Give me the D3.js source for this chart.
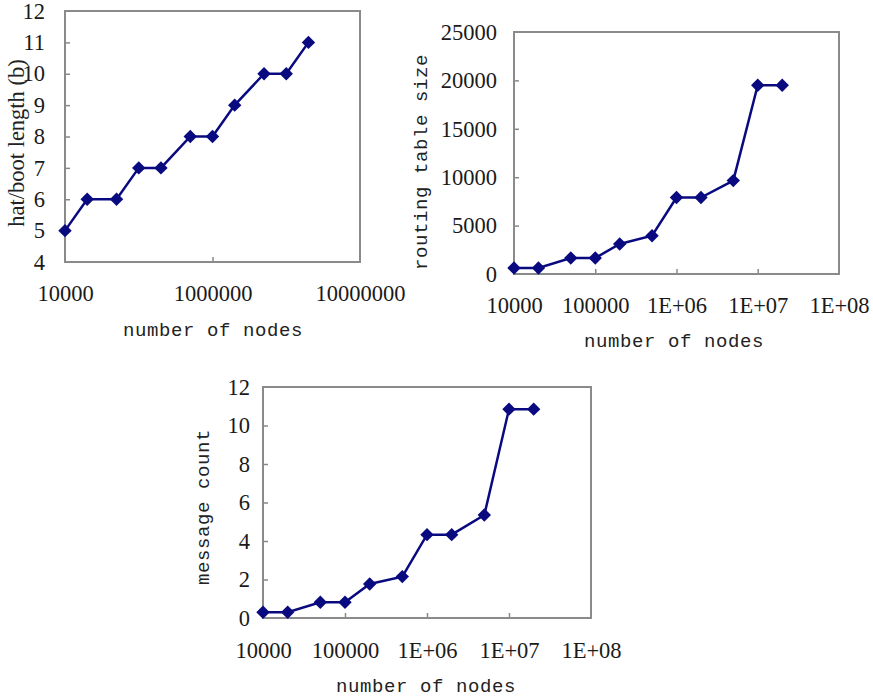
<!DOCTYPE html>
<html>
<head>
<meta charset="utf-8">
<script src="https://cdn.jsdelivr.net/npm/d3@7"></script>
<style>
  body { margin: 0; background: #fff; }
  .tick line { stroke: #888; stroke-width: 1.5; }
  .title { font-family: "Liberation Mono", monospace; font-size: 19px; fill: #222; letter-spacing: 0.6px; }
  .title.serif { font-family: "Liberation Serif", serif; font-size: 22.5px; letter-spacing: 0; }
</style>
</head>
<body>
<div id="chart"></div>
<script>
var svgWidth = 873;
var svgHeight = 698;

// number of nodes (same for all three panels)
var nodes = [1e4, 2e4, 5e4, 1e5, 2e5, 5e5, 1e6, 2e6, 5e6, 1e7, 2e7];

// series values
var hatLength = [5, 6, 6, 7, 7, 8, 8, 9, 10, 10, 11];
var routingSize = [620, 620, 1650, 1650, 3100, 3950, 7900, 7900, 9650, 19500, 19500];
var messageCount = [0.3, 0.3, 0.82, 0.82, 1.77, 2.15, 4.33, 4.33, 5.35, 10.85, 10.85];

// tick labels
var xTicks1 = [1e4, 1e6, 1e8];
var xLabels1 = ["10000", "1000000", "10000000"];
var xTicks2 = [1e4, 1e5, 1e6, 1e7, 1e8];
var xLabels2 = ["10000", "100000", "1E+06", "1E+07", "1E+08"];
var yTicks1 = [4, 5, 6, 7, 8, 9, 10, 11, 12];
var yTicks2 = [0, 5000, 10000, 15000, 20000, 25000];
var yTicks3 = [0, 2, 4, 6, 8, 10, 12];

var svg = d3.select("#chart")
  .append("svg")
  .attr("width", svgWidth)
  .attr("height", svgHeight);

function styleTicks(sel) {
  sel.selectAll(".tick text")
    .attr("font-family", "'Liberation Serif', serif")
    .attr("font-size", 22.5)
    .attr("fill", "#1a1a1a");
}

function drawPanel(p) {
  var width = p.right - p.left;
  var height = p.bottom - p.top;

  var g = svg.append("g")
    .attr("transform", `translate(${p.left}, ${p.top})`);

  var x = d3.scaleLog().domain([1e4, 1e8]).range([0, width]);
  var y = d3.scaleLinear().domain(p.yDomain).range([height, 0]);

  var xAxis = d3.axisBottom(x)
    .tickValues(p.xTicks)
    .tickFormat((d, i) => p.xLabels[i])
    .tickSize(-5)
    .tickPadding(p.xPad);
  var gx = g.append("g").attr("transform", `translate(0, ${height})`).call(xAxis);
  gx.select(".domain").remove();
  gx.selectAll(".tick line").filter((d, i) => i == 0 || i == p.xTicks.length - 1).remove();
  styleTicks(gx);

  var yAxis = d3.axisLeft(y)
    .tickValues(p.yTicks)
    .tickFormat(d3.format("d"))
    .tickSize(-5)
    .tickPadding(p.yPad);
  var gy = g.append("g").call(yAxis);
  gy.select(".domain").remove();
  gy.selectAll(".tick line").filter((d, i) => i == 0 || i == p.yTicks.length - 1).remove();
  styleTicks(gy);

  g.append("rect")
    .attr("width", width)
    .attr("height", height)
    .attr("fill", "none")
    .attr("stroke", "#8a8a8a")
    .attr("stroke-width", 2);

  var line = d3.line()
    .x((d, i) => x(nodes[i]))
    .y(d => y(d));

  g.append("path")
    .datum(p.values)
    .attr("d", line)
    .attr("fill", "none")
    .attr("stroke", "#0a0a80")
    .attr("stroke-width", 2.5);

  g.selectAll(".marker")
    .data(p.values)
    .enter()
    .append("path")
    .attr("class", "marker")
    .attr("d", d3.symbol().type(d3.symbolSquare).size(90))
    .attr("transform", (d, i) => `translate(${x(nodes[i])}, ${y(d)}) rotate(45)`)
    .attr("fill", "#0a0a80");

  svg.append("text")
    .attr("class", "title")
    .attr("x", p.xTitle[0])
    .attr("y", p.xTitle[1])
    .attr("text-anchor", "middle")
    .text("number of nodes");

  svg.append("text")
    .attr("class", p.serifY ? "title serif" : "title")
    .attr("transform", `translate(${p.yTitle[0]}, ${p.yTitle[1]}) rotate(-90)`)
    .attr("dy", "0.35em")
    .attr("text-anchor", "middle")
    .text(p.yLabel);
}

drawPanel({
  left: 65, right: 360, top: 11, bottom: 262,
  yDomain: [4, 12], yTicks: yTicks1, xTicks: xTicks1, xLabels: xLabels1,
  xPad: 23, yPad: 20, values: hatLength,
  xTitle: [213, 336], yTitle: [16, 143], yLabel: "hat/boot length (b)", serifY: true
});

drawPanel({
  left: 514, right: 839, top: 32, bottom: 274,
  yDomain: [0, 25000], yTicks: yTicks2, xTicks: xTicks2, xLabels: xLabels2,
  xPad: 23, yPad: 17, values: routingSize,
  xTitle: [674, 347], yTitle: [420, 162], yLabel: "routing table size"
});

drawPanel({
  left: 263, right: 591, top: 387, bottom: 618,
  yDomain: [0, 12], yTicks: yTicks3, xTicks: xTicks2, xLabels: xLabels2,
  xPad: 24, yPad: 13, values: messageCount,
  xTitle: [426, 692], yTitle: [202, 507], yLabel: "message count"
});
</script>
</body>
</html>
